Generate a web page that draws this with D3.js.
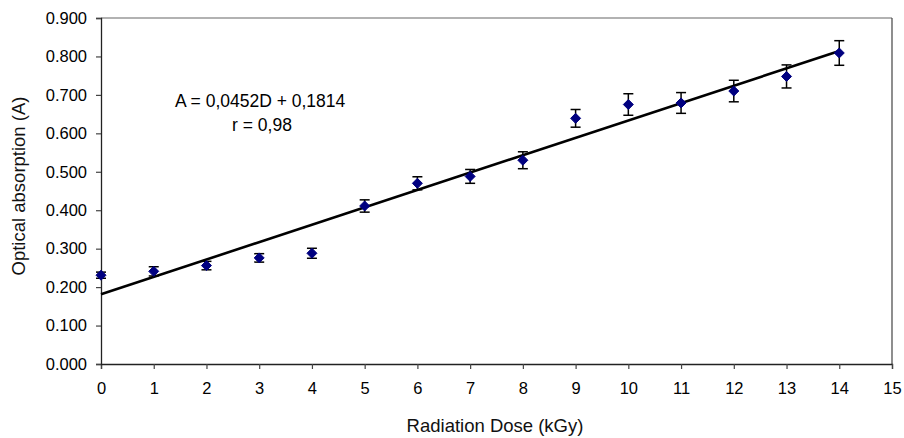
<!DOCTYPE html>
<html>
<head>
<meta charset="utf-8">
<script src="https://cdn.jsdelivr.net/npm/d3@7"></script>
<style>
  html, body { margin: 0; padding: 0; background: #fff; }
  svg { display: block; font-family: "Liberation Sans", Arial, sans-serif; }
</style>
</head>
<body>
<svg id="chart" width="904" height="438"></svg>
<script>
// Data
const doses = [0, 1, 2, 3, 4, 5, 6, 7, 8, 9, 10, 11, 12, 13, 14];
const absorption = [0.231, 0.241, 0.256, 0.276, 0.288, 0.411, 0.470, 0.488, 0.530, 0.639, 0.675, 0.679, 0.710, 0.748, 0.809];
const errors = [0.008, 0.012, 0.011, 0.011, 0.013, 0.016, 0.017, 0.018, 0.022, 0.023, 0.028, 0.027, 0.028, 0.030, 0.032];
const xTicks = [0, 1, 2, 3, 4, 5, 6, 7, 8, 9, 10, 11, 12, 13, 14, 15];
const yTicks = [0, 0.1, 0.2, 0.3, 0.4, 0.5, 0.6, 0.7, 0.8, 0.9];
const fitSlope = 0.0452;
const fitIntercept = 0.1814;
const fitRange = [0, 14];
const equationLines = ["A = 0,0452D + 0,1814", "r = 0,98"];

const svg = d3.select("#chart");
const L = 101, R = 892, T = 18, B = 364;

const x = d3.scaleLinear().domain([0, 15]).range([L, R]);
const y = d3.scaleLinear().domain([0, 0.9]).range([B, T]);

// plot frame (top & right)
svg.append("line").attr("x1", L).attr("x2", R).attr("y1", T).attr("y2", T)
  .attr("stroke", "#666").attr("stroke-width", 1.2);
svg.append("line").attr("x1", R).attr("x2", R).attr("y1", T).attr("y2", B)
  .attr("stroke", "#444").attr("stroke-width", 1.2);

// axes
const xAxis = svg.append("g").attr("transform", `translate(0,${B})`)
  .call(d3.axisBottom(x).tickValues(xTicks).tickSize(5).tickPadding(13).tickFormat(d3.format("d")));
const yAxis = svg.append("g").attr("transform", `translate(${L},0)`)
  .call(d3.axisLeft(y).tickValues(yTicks).tickSize(5).tickPadding(9).tickFormat(d3.format(".3f")));
[xAxis, yAxis].forEach(g => {
  g.select(".domain").attr("stroke", "#222").attr("stroke-width", 1.3);
  g.selectAll(".tick line").attr("stroke", "#444").attr("stroke-width", 1.2);
  g.selectAll(".tick text").attr("fill", "#000").style("font-size", "16.5px")
    .style("font-family", "'Liberation Sans', Arial, sans-serif");
});

// regression line
svg.append("line")
  .attr("x1", x(fitRange[0])).attr("y1", y(fitIntercept + fitSlope * fitRange[0]))
  .attr("x2", x(fitRange[1])).attr("y2", y(fitIntercept + fitSlope * fitRange[1]))
  .attr("stroke", "#000").attr("stroke-width", 2.6);

const data = doses.map((d, i) => ({ d, a: absorption[i], e: errors[i] }));

// error bars
const eb = svg.append("g").attr("stroke", "#000").attr("stroke-width", 1.5);
data.forEach(p => {
  const cx = x(p.d), yt = y(p.a + p.e), yb = y(p.a - p.e);
  eb.append("line").attr("x1", cx).attr("x2", cx).attr("y1", yt).attr("y2", yb);
  eb.append("line").attr("x1", cx - 5).attr("x2", cx + 5).attr("y1", yt).attr("y2", yt);
  eb.append("line").attr("x1", cx - 5).attr("x2", cx + 5).attr("y1", yb).attr("y2", yb);
});

// markers (square diamond)
const squareDiamond = {
  draw(ctx, size) {
    const r = Math.sqrt(size / 2);
    ctx.moveTo(0, -r); ctx.lineTo(r, 0); ctx.lineTo(0, r); ctx.lineTo(-r, 0); ctx.closePath();
  }
};
const diamond = d3.symbol().type(squareDiamond).size(50);
svg.append("g").selectAll("path").data(data).join("path")
  .attr("d", diamond)
  .attr("transform", p => `translate(${x(p.d)},${y(p.a)})`)
  .attr("fill", "#000080").attr("stroke", "#000080").attr("stroke-width", 1);

// equation text
svg.append("text").attr("x", 175).attr("y", 107).attr("font-size", 17.5).attr("fill", "#000")
  .text(equationLines[0]);
svg.append("text").attr("x", 262).attr("y", 131).attr("font-size", 17.5).attr("fill", "#000")
  .attr("text-anchor", "middle").text(equationLines[1]);

// axis titles
svg.append("text").attr("x", 495).attr("y", 432).attr("text-anchor", "middle")
  .attr("font-size", 18.5).attr("fill", "#111").text("Radiation Dose (kGy)");
svg.append("text").attr("transform", "translate(25,186) rotate(-90)").attr("text-anchor", "middle")
  .attr("font-size", 18.5).attr("fill", "#111").text("Optical absorption (A)");
</script>
</body>
</html>
